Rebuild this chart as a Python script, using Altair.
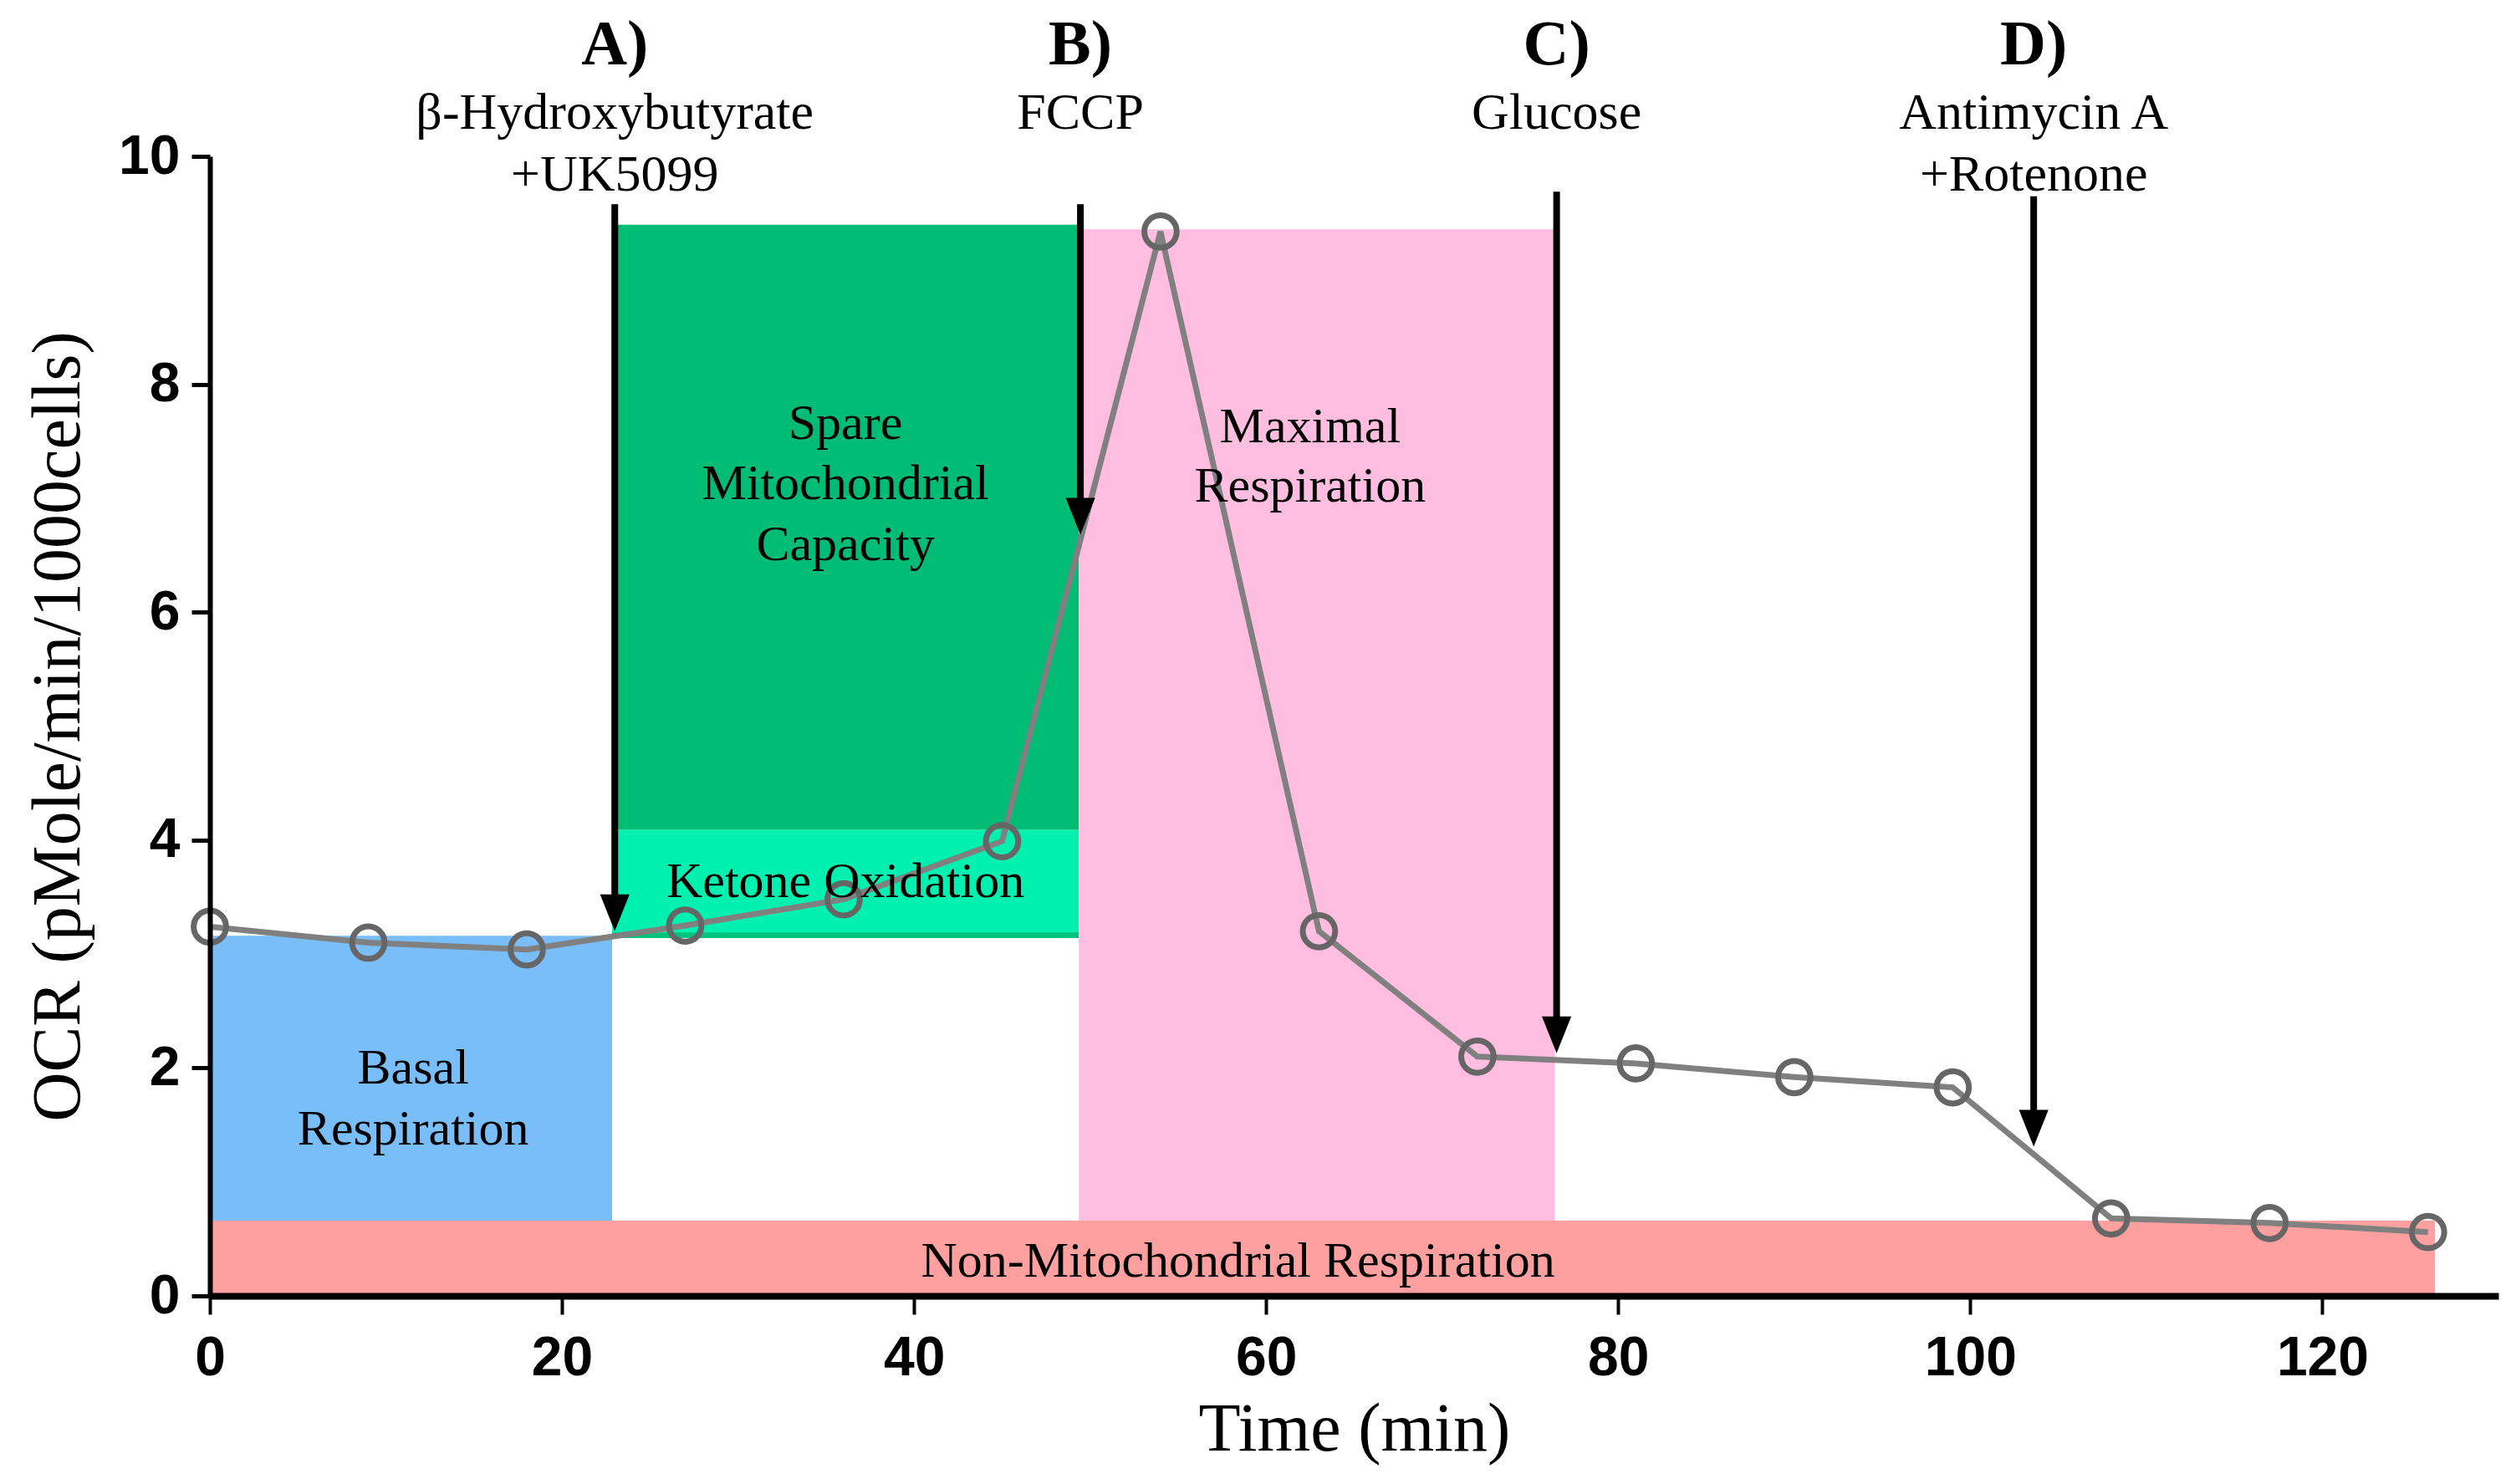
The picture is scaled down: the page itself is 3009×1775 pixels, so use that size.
import altair as alt
import pandas as pd

# ---- data ----
time_min = [0, 9, 18, 27, 36, 45, 54, 63, 72, 81, 90, 99, 108, 117, 126]
ocr = [3.24, 3.10, 3.04, 3.25, 3.48, 3.99, 9.34, 3.20, 2.10, 2.04, 1.92, 1.83, 0.68, 0.64, 0.56]

region_names = ["Non-Mito", "Basal", "Ketone", "KetoneEdge", "Spare", "Maximal"]
region_x1 = [0.0, 0.0, 22.85, 22.85, 22.85, 49.36]
region_x2 = [126.4, 22.85, 49.36, 49.36, 49.36, 76.4]
region_y1 = [0.0, 0.66, 3.14, 3.14, 4.09, 0.66]
region_y2 = [0.66, 3.16, 4.09, 3.19, 9.40, 9.36]
region_colors = ["#FFA0A0", "#79BEF8", "#00F0B0", "#00C47E", "#00BC74", "#FFBEE0"]

inj_x = [23.0, 49.45, 76.5, 103.6]
inj_top = [9.58, 9.58, 9.69, 9.65]
inj_tip = [3.20, 6.68, 2.13, 1.31]

head_text = ["A)", "B)", "C)", "D)"]
head_y = [10.81, 10.81, 10.81, 10.81]

sub_text = ["β-Hydroxybutyrate", "+UK5099", "FCCP", "Glucose", "Antimycin A", "+Rotenone"]
sub_x = [23.0, 23.0, 49.45, 76.5, 103.6, 103.6]
sub_y = [10.24, 9.70, 10.24, 10.24, 10.24, 9.70]

in_text = ["Spare", "Mitochondrial", "Capacity", "Ketone Oxidation",
           "Maximal", "Respiration", "Basal", "Respiration",
           "Non-Mitochondrial Respiration"]
in_x = [36.1, 36.1, 36.1, 36.1, 62.5, 62.5, 11.55, 11.55, 58.4]
in_y = [7.52, 6.99, 6.46, 3.50, 7.49, 6.97, 1.86, 1.33, 0.17]

x_ticks = [0, 20, 40, 60, 80, 100, 120]
y_ticks = [0, 2, 4, 6, 8, 10]

# ---- tables ----
df_line = pd.DataFrame({"t": time_min, "ocr": ocr})
df_rect = pd.DataFrame({"name": region_names, "t": region_x1, "x2": region_x2,
                        "ocr": region_y1, "y2": region_y2, "c": region_colors})
df_inj = pd.DataFrame({"t": inj_x, "ocr": inj_top, "tip": inj_tip,
                       "shaft_end": [v + 0.2 for v in inj_tip]})
df_head = pd.DataFrame({"t": inj_x, "ocr": head_y, "text": head_text})
df_sub = pd.DataFrame({"t": sub_x, "ocr": sub_y, "text": sub_text})
df_in = pd.DataFrame({"t": in_x, "ocr": in_y, "text": in_text})

SERIF = "Liberation Serif, Times New Roman, serif"
SANS = "Liberation Sans Narrow, Arial Narrow, Liberation Sans, Arial, sans-serif"

xs = alt.Scale(domain=[0, 130], nice=False, zero=False)
ys = alt.Scale(domain=[0, 10], nice=False, zero=False)

x_axis = alt.Axis(values=x_ticks, title="Time (min)", zindex=2, labelFlush=False,
                  grid=False, domainColor="black", domainWidth=8,
                  tickColor="black", tickWidth=4, tickSize=22,
                  labelFont=SANS, labelFontWeight="bold", labelFontSize=66,
                  labelColor="black", labelPadding=20,
                  titleFont=SERIF, titleFontWeight="normal", titleFontSize=82,
                  titleColor="black", titlePadding=12)
y_axis = alt.Axis(values=y_ticks, title="OCR (pMole/min/1000cells)", zindex=2,
                  labelFlush=False,
                  grid=False, domainColor="black", domainWidth=6,
                  tickColor="black", tickWidth=5, tickSize=22,
                  labelFont=SANS, labelFontWeight="bold", labelFontSize=66,
                  labelColor="black", labelPadding=14,
                  titleFont=SERIF, titleFontWeight="normal", titleFontSize=82,
                  titleColor="black", titlePadding=30)

X = alt.X("t:Q", scale=xs, axis=x_axis)
Y = alt.Y("ocr:Q", scale=ys, axis=y_axis)

rects = alt.Chart(df_rect).mark_rect().encode(
    x=X, x2="x2:Q", y=Y, y2="y2:Q",
    color=alt.Color("c:N", scale=None),
)

line = alt.Chart(df_line).mark_line(color="#808080", strokeWidth=7).encode(x=X, y=Y)
pts = alt.Chart(df_line).mark_point(shape="circle", filled=False, color="#666666",
                                    strokeWidth=7, size=1500, opacity=1).encode(x=X, y=Y)

shafts = alt.Chart(df_inj).mark_rule(color="black", strokeWidth=8).encode(
    x=X, y=Y, y2="shaft_end:Q",
)
heads = alt.Chart(df_inj).mark_point(shape="M-0.8,-2L0.8,-2L0,0Z", filled=True,
                                     color="black", size=1936, opacity=1).encode(
    x=X, y=alt.Y("tip:Q", scale=ys, axis=y_axis),
)

head_txt = alt.Chart(df_head).mark_text(font=SERIF, fontWeight="bold", fontSize=76,
                                        color="black", align="center",
                                        baseline="alphabetic").encode(
    x=X, y=Y, text="text:N",
)
sub_txt = alt.Chart(df_sub).mark_text(font=SERIF, fontSize=62, color="black",
                                      align="center", baseline="alphabetic").encode(
    x=X, y=Y, text="text:N",
)
in_txt = alt.Chart(df_in).mark_text(font=SERIF, fontSize=60, color="black",
                                    align="center", baseline="alphabetic").encode(
    x=X, y=Y, text="text:N",
)

chart = alt.layer(rects, line, pts, in_txt, shafts, heads, head_txt, sub_txt).properties(
    width=2737, height=1363,
    autosize=alt.AutoSizeParams(type="none"),
    padding={"left": 243, "top": 179, "right": 12, "bottom": 222},
    background="white",
).configure_view(stroke=None)

chart.save("out.html", embed_options={"renderer": "svg", "actions": False})
